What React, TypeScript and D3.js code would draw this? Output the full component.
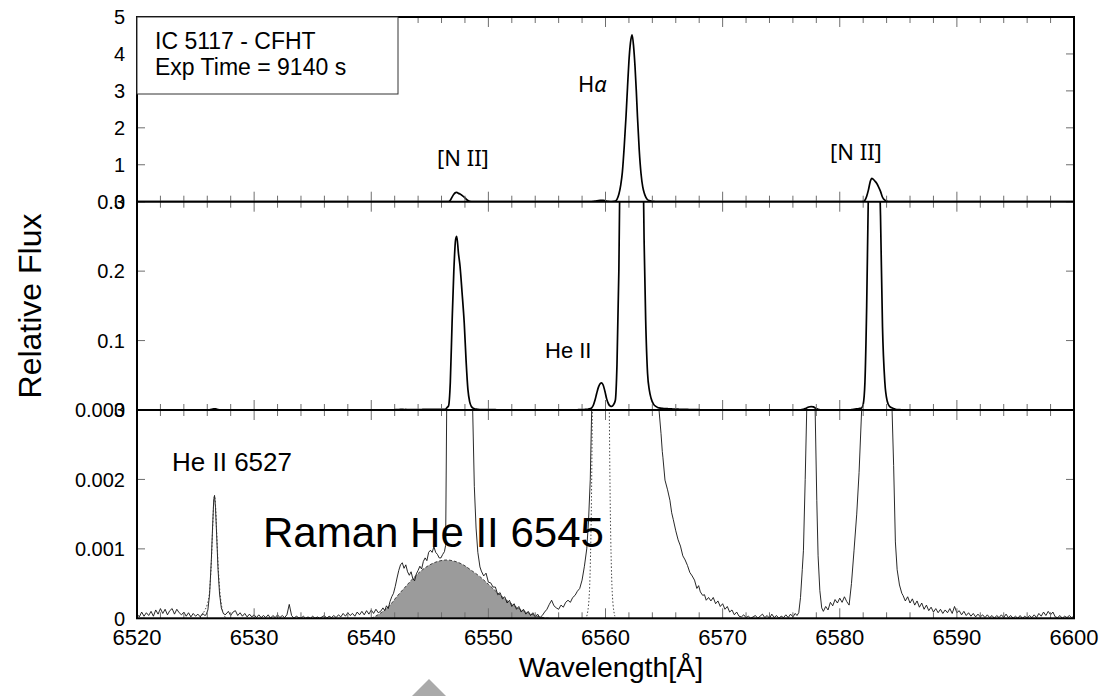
import * as d3 from 'd3';

// ---- layout ----
const W = 1102;
const H = 696;
const LEFT = 137;
const RIGHT = 1074;
const PANEL_Y = [17, 201.7, 410, 618.3]; // top, boundary 1, boundary 2, bottom

// ---- data ----
const xTickLabels = [6520, 6530, 6540, 6550, 6560, 6570, 6580, 6590, 6600];
const topTicks = [0, 1, 2, 3, 4, 5];
const midTicks = [0, 0.1, 0.2, 0.3];
const botTicks = [0, 0.001, 0.002, 0.003];

const STEP = 0.2; // Å, sampling of the faint continuum pieces
const E4 = 1e-4; // continuum pieces are listed in units of 1e-4

// continuum 6520.0 - 6525.8
const contBlueStart = 6520.0;
const contBlue = [0.6, 0.2, 0.9, 0.3, 0.8, 0.4, 1.0, 0.3, 1.2, 0.6, 1.4, 0.7, 1.3, 0.5, 1.1,
  1.4, 0.6, 1.3, 0.8, 0.5, 0.9, 0.3, 0.8, 0.2, 0.7, 0.3, 0.6, 0.2, 0.7, 0.4];

// He II 6527 (units 1e-4)
const heII6527Line = [[6525.9, 0.5], [6526.05, 1.2], [6526.2, 3.5], [6526.35, 8.5], [6526.45, 13],
  [6526.55, 17], [6526.62, 17.7], [6526.7, 16], [6526.8, 12], [6526.92, 7], [6527.05, 3.5],
  [6527.2, 1.5], [6527.35, 0.8], [6527.5, 0.5]];

// continuum 6527.6 - 6540.6
const contMidStart = 6527.6;
const contMid = [0.6, 1.0, 0.4, 0.9, 1.1, 0.4, 0.8, 0.3, 0.7, 0.2, 0.6, 0.2, 0.5, 0.1, 0.5, 0.1,
  0.4, 0.1, 0.5, 0.0, 0.4, 0.1, 0.5, 0.1, 0.4, 0.1, 0.5, 2.0, 0.4, 0.0, 0.3, 0.1, 0.0, 0.3, 0.0,
  0.2, 0.0, 0.3, 0.0, 0.2, 0.0, 0.2, 0.4, 0.0, 0.3, 0.1, 0.4, 0.1, 0.5, 0.2, 0.7, 0.3, 0.8, 0.4,
  0.7, 0.3, 0.9, 0.5, 1.0, 0.5, 1.1, 0.6, 1.2, 0.7, 1.3, 0.8];

// blue side of the Raman feature (units 1e-4)
const ramanBlueLine = [[6540.8, 1.0], [6541.0, 1.5], [6541.15, 1.1], [6541.3, 1.8], [6541.45, 1.4],
  [6541.6, 2.4], [6541.75, 3.1], [6541.9, 3.6], [6542.05, 4.6], [6542.2, 5.8], [6542.35, 6.9],
  [6542.5, 7.7], [6542.65, 8.0], [6542.8, 7.2], [6542.95, 7.7], [6543.1, 6.7], [6543.25, 6.2],
  [6543.4, 6.7], [6543.55, 5.7], [6543.7, 5.4], [6543.85, 6.4], [6544.0, 6.9], [6544.15, 7.5],
  [6544.3, 7.1], [6544.45, 8.2], [6544.6, 8.7], [6544.75, 8.3], [6544.9, 9.5], [6545.05, 9.8],
  [6545.2, 9.5], [6545.35, 10.3], [6545.5, 9.5], [6545.65, 9.2], [6545.8, 8.7], [6545.95, 8.7],
  [6546.1, 9.2], [6546.25, 9.6], [6546.35, 10.5]];

// [N II] 6548 (relative flux)
const nII6548Line = [[6546.44, 0.003], [6546.6, 0.006], [6546.75, 0.04], [6546.9, 0.125],
  [6547.05, 0.2], [6547.2, 0.245], [6547.3, 0.25], [6547.45, 0.225], [6547.58, 0.207],
  [6547.75, 0.17], [6547.94, 0.125], [6548.1, 0.07], [6548.25, 0.03], [6548.4, 0.012],
  [6548.55, 0.005], [6548.66, 0.003], [6548.8, 0.0019], [6548.95, 0.0013], [6549.1, 0.00095],
  [6549.28, 0.00074]];

// red side of Raman feature up to the Hα wing, 6549.4 - 6558.0
const contRedRamanStart = 6549.4;
const contRedRaman = [6.8, 6.1, 6.5, 5.2, 5.1, 4.5, 4.5, 3.4, 3.7, 2.8, 3.1, 2.2, 2.6, 1.7, 2.1,
  1.3, 1.7, 0.9, 1.3, 0.6, 1.0, 0.4, 0.8, 0.2, 0.6, 0.1, 0.4, 0.9, 1.3, 2.0, 2.6, 1.8, 1.5, 1.3,
  1.9, 1.6, 2.3, 2.6, 2.3, 3.0, 3.3, 3.9, 4.3, 5.5];

// He II 6560 + Hα (relative flux)
const halphaLine = [[6558.2, 0.00075], [6558.4, 0.001], [6558.55, 0.0014], [6558.7, 0.002],
  [6558.82, 0.003], [6558.95, 0.0065], [6559.1, 0.014], [6559.25, 0.024], [6559.4, 0.033],
  [6559.55, 0.038], [6559.67, 0.039], [6559.8, 0.036], [6559.95, 0.027], [6560.1, 0.016],
  [6560.25, 0.009], [6560.4, 0.0058], [6560.53, 0.0052], [6560.68, 0.0075], [6560.84, 0.014],
  [6560.98, 0.065], [6561.14, 0.2], [6561.3, 0.45], [6561.44, 0.8], [6561.6, 1.5], [6561.75, 2.3],
  [6561.88, 3.1], [6562.0, 3.8], [6562.13, 4.3], [6562.27, 4.52], [6562.4, 4.2], [6562.52, 3.66],
  [6562.63, 3.0], [6562.73, 2.3], [6562.88, 1.4], [6563.03, 0.77], [6563.18, 0.4], [6563.3, 0.24],
  [6563.43, 0.13], [6563.59, 0.053], [6563.75, 0.028], [6563.89, 0.017], [6564.1, 0.0085],
  [6564.3, 0.0052], [6564.45, 0.0037], [6564.57, 0.003], [6564.74, 0.00266], [6564.85, 0.0024],
  [6564.9, 0.00232], [6565.08, 0.00199], [6565.3, 0.00185], [6565.5, 0.0017], [6565.65, 0.00152],
  [6565.79, 0.00142], [6566.0, 0.00126], [6566.2, 0.00113], [6566.4, 0.00104], [6566.6, 0.0009],
  [6566.8, 0.00084], [6567.0, 0.00076], [6567.2, 0.00066], [6567.4, 0.00061], [6567.6, 0.00055],
  [6567.8, 0.00043], [6567.95, 0.00047], [6568.1, 0.00038], [6568.3, 0.00033], [6568.45, 0.00034],
  [6568.6, 0.00026]];

// continuum 6568.8 - 6576.2
const contRedStart = 6568.8;
const contRed = [3.0, 2.5, 3.0, 2.1, 2.5, 1.7, 2.1, 1.3, 1.7, 0.9, 1.2, 0.5, 0.9, 0.3, 0.2, 0.5,
  0.1, 0.3, 0.0, 0.2, 0.4, 0.0, 0.3, 0.6, 0.1, 0.4, 0.0, 0.6, 0.1, 0.4, 0.0, 0.3, 0.1, 0.5, 0.1,
  0.6, 0.2, 0.7];

// weak line near 6578 (relative flux)
const line6578 = [[6576.35, 0.00004], [6576.5, 0.00008], [6576.65, 0.0003], [6576.8, 0.0007],
  [6576.9, 0.00098], [6577.05, 0.002], [6577.18, 0.003], [6577.35, 0.0043], [6577.55, 0.005],
  [6577.75, 0.0046], [6577.9, 0.003], [6578.04, 0.0017], [6578.15, 0.0009], [6578.3, 0.0004],
  [6578.46, 0.00015]];

// plateau 6578.6 - 6581.0
const contPlateauStart = 6578.6;
const contPlateau = [1.0, 1.7, 1.2, 2.3, 1.8, 2.7, 2.2, 2.9, 2.3, 3.1, 2.4, 1.9, 5.0];

// [N II] 6583 (relative flux)
const nII6583Line = [[6581.22, 0.00098], [6581.45, 0.0015], [6581.65, 0.0021], [6581.87, 0.003],
  [6582.0, 0.008], [6582.15, 0.04], [6582.3, 0.15], [6582.45, 0.32], [6582.6, 0.54],
  [6582.72, 0.63], [6582.85, 0.61], [6583.0, 0.56], [6583.15, 0.5], [6583.3, 0.41],
  [6583.48, 0.28], [6583.65, 0.12], [6583.85, 0.04], [6584.05, 0.013], [6584.25, 0.0052],
  [6584.45, 0.0031], [6584.6, 0.0022], [6584.75, 0.0011], [6584.9, 0.0007], [6585.1, 0.00048],
  [6585.3, 0.00036]];

// continuum 6585.4 - 6600.0
const contTailStart = 6585.4;
const contTail = [3.3, 2.5, 3.1, 2.2, 2.8, 1.9, 2.5, 1.6, 2.2, 1.3, 1.9, 1.1, 1.6, 0.9, 1.4, 0.8,
  1.3, 0.7, 1.2, 0.8, 1.4, 0.7, 1.7, 0.8, 1.1, 0.5, 1.0, 0.4, 0.8, 0.3, 0.7, 0.2, 0.6, 0.2, 0.5,
  0.1, 0.5, 0.1, 0.4, 0.0, 0.4, 0.1, 0.5, 0.1, 0.6, 0.1, 0.4, 0.0, 0.3, 0.0, 0.4, 0.0, 0.3, 0.0,
  0.4, 0.1, 0.5, 0.1, 0.7, 0.3, 0.9, 0.4, 1.0, 0.5, 0.9, 0.2, 0.1, 0.4, 0.0, 0.3, 0.1, 0.4, 0.1,
  0.3];

// fits (dotted / shaded)
const heII6527Fit = [[6525.38, 0], [6525.8, 1.2], [6526.0, 2.0], [6526.2, 4.0], [6526.35, 8.2],
  [6526.45, 12.6], [6526.55, 16.6], [6526.62, 17.6], [6526.7, 16.4], [6526.8, 12.5],
  [6526.92, 7.8], [6527.05, 4.4], [6527.23, 1.7], [6527.6, 0]]; // units 1e-4
const heII6560Fit = [[6558.4, 0.00003], [6558.6, 0.0003], [6558.7, 0.00075], [6558.8, 0.0017],
  [6558.9, 0.0036], [6559.0, 0.0067], [6559.2, 0.0178], [6559.4, 0.032], [6559.6, 0.039],
  [6559.8, 0.032], [6560.0, 0.0178], [6560.2, 0.0067], [6560.3, 0.0036], [6560.4, 0.0017],
  [6560.5, 0.00075], [6560.6, 0.0003], [6560.8, 0.00003]];
const ramanFit = [[6540.0, 0], [6540.75, 0.7], [6541.6, 1.9], [6542.17, 3.1], [6542.9, 4.5],
  [6543.6, 5.8], [6544.3, 6.9], [6545.0, 7.7], [6545.7, 8.2], [6546.44, 8.4], [6547.15, 8.2],
  [6547.86, 7.7], [6548.55, 6.9], [6549.28, 6.0], [6550.0, 4.9], [6550.7, 3.8], [6551.4, 2.8],
  [6552.13, 1.9], [6552.85, 1.2], [6553.55, 0.7], [6554.4, 0.2], [6555.2, 0]]; // units 1e-4

type Pt = [number, number];
const grid = (start: number, vals: number[]): Pt[] => vals.map((v, i) => [start + i * STEP, v * E4]);
const scaled = (pts: number[][], k: number): Pt[] => pts.map(([w, v]) => [w, v * k]);

const spectrum: Pt[] = [
  ...grid(contBlueStart, contBlue),
  ...scaled(heII6527Line, E4),
  ...grid(contMidStart, contMid),
  ...scaled(ramanBlueLine, E4),
  ...scaled(nII6548Line, 1),
  ...grid(contRedRamanStart, contRedRaman),
  ...scaled(halphaLine, 1),
  ...grid(contRedStart, contRed),
  ...scaled(line6578, 1),
  ...grid(contPlateauStart, contPlateau),
  ...scaled(nII6583Line, 1),
  ...grid(contTailStart, contTail),
].sort((a, b) => a[0] - b[0]);

const x = d3.scaleLinear().domain([6520, 6600]).range([LEFT, RIGHT]);

const panels = [
  { id: 'top', y: d3.scaleLinear().domain([0, 5]).range([PANEL_Y[1], PANEL_Y[0]]), ticks: topTicks, fmt: (v: number) => String(v), width: 1.7, color: '#000', curve: d3.curveMonotoneX },
  { id: 'mid', y: d3.scaleLinear().domain([0, 0.3]).range([PANEL_Y[2], PANEL_Y[1]]), ticks: midTicks, fmt: (v: number) => (v === 0 ? '0' : v.toFixed(1)), width: 1.7, color: '#000', curve: d3.curveMonotoneX },
  { id: 'bot', y: d3.scaleLinear().domain([0, 0.003]).range([PANEL_Y[3], PANEL_Y[2]]), ticks: botTicks, fmt: (v: number) => (v === 0 ? '0' : v.toFixed(3)), width: 0.9, color: '#111', curve: d3.curveLinear },
];

const SANS = '"Liberation Sans", Arial, sans-serif';
const NOTO = '"Noto Sans", "Open Sans", sans-serif';
const TICK = '#6e6e6e';

export default function App() {
  const xMinor = d3.range(6520, 6600.1, 2);
  const bot = panels[2].y;

  const ramanArea = d3.area<Pt>().x((d) => x(d[0])).y0(bot(0)).y1((d) => bot(d[1])).curve(d3.curveMonotoneX);
  const fitLine = d3.line<Pt>().x((d) => x(d[0])).y((d) => bot(d[1])).curve(d3.curveMonotoneX);
  const ramanPts = scaled(ramanFit, E4);

  return (
    <svg width={W} height={H} style={{ display: 'block', position: 'absolute', left: 0, top: 0, background: '#fff' }}>
      <defs>
        {panels.map((p) => (
          <clipPath id={`clip-${p.id}`} key={p.id}>
            <rect x={LEFT} y={p.y.range()[1]} width={RIGHT - LEFT} height={p.y.range()[0] - p.y.range()[1]} />
          </clipPath>
        ))}
      </defs>

      {/* shaded Raman fit */}
      <g clipPath="url(#clip-bot)">
        <path d={ramanArea(ramanPts) || ''} fill="#9b9b9b" />
      </g>

      {/* spectrum in each panel */}
      {panels.map((p) => {
        const line = d3.line<Pt>().x((d) => x(d[0])).y((d) => p.y(d[1])).curve(p.curve);
        return (
          <g key={p.id} clipPath={`url(#clip-${p.id})`}>
            <path d={line(spectrum) || ''} fill="none" stroke={p.color} strokeWidth={p.width} strokeLinejoin="round" />
          </g>
        );
      })}

      {/* dotted / dashed fits in the bottom panel */}
      <g clipPath="url(#clip-bot)">
        <path d={fitLine(ramanPts) || ''} fill="none" stroke="#333" strokeWidth={0.9} strokeDasharray="3,2" />
        <path d={fitLine(scaled(heII6527Fit, E4)) || ''} fill="none" stroke="#333" strokeWidth={0.9} strokeDasharray="1.5,2" />
        <path d={fitLine(scaled(heII6560Fit, 1)) || ''} fill="none" stroke="#333" strokeWidth={0.9} strokeDasharray="1.5,2" />
      </g>

      {/* ticks */}
      <g stroke={TICK} strokeWidth={1}>
        {xMinor.map((v) => {
          const major = Math.abs(v % 10) < 1e-6;
          const len = major ? 10 : 6;
          const xx = x(v);
          return (
            <g key={v}>
              <line x1={xx} x2={xx} y1={PANEL_Y[0]} y2={PANEL_Y[0] + len} />
              <line x1={xx} x2={xx} y1={PANEL_Y[1] - len} y2={PANEL_Y[1] + len} />
              <line x1={xx} x2={xx} y1={PANEL_Y[2] - len} y2={PANEL_Y[2] + len} />
              <line x1={xx} x2={xx} y1={PANEL_Y[3] - len} y2={PANEL_Y[3]} />
            </g>
          );
        })}
        {panels.map((p) =>
          p.ticks.map((t) => (
            <g key={`${p.id}-${t}`}>
              <line x1={LEFT} x2={LEFT + 8} y1={p.y(t)} y2={p.y(t)} />
              <line x1={RIGHT - 8} x2={RIGHT} y1={p.y(t)} y2={p.y(t)} />
            </g>
          ))
        )}
      </g>

      {/* frame */}
      <g stroke="#000" strokeWidth={2} fill="none">
        <rect x={LEFT} y={PANEL_Y[0]} width={RIGHT - LEFT} height={PANEL_Y[3] - PANEL_Y[0]} />
        <line x1={LEFT} x2={RIGHT} y1={PANEL_Y[1]} y2={PANEL_Y[1]} />
        <line x1={LEFT} x2={RIGHT} y1={PANEL_Y[2]} y2={PANEL_Y[2]} />
      </g>

      {/* y tick labels (the 0 of one panel sits on the top label of the next, as in the original) */}
      <g fontFamily={SANS} fontSize={20} textAnchor="end" fill="#000">
        {panels.map((p) =>
          p.ticks.map((t) => (
            <text key={`${p.id}-l-${t}`} x={LEFT - 12} y={p.y(t)} dy="0.36em">
              {p.fmt(t)}
            </text>
          ))
        )}
      </g>

      {/* x tick labels */}
      <g fontFamily={SANS} fontSize={22} textAnchor="middle" fill="#000">
        {xTickLabels.map((v) => (
          <text key={v} x={x(v)} y={645}>{v}</text>
        ))}
      </g>

      {/* axis titles */}
      <text x={611} y={677} textAnchor="middle" fontFamily={SANS} fontSize={28.5}>Wavelength[Å]</text>
      <text transform="translate(41,306) rotate(-90)" textAnchor="middle" fontFamily={SANS} fontSize={32}>Relative Flux</text>

      {/* info box */}
      <rect x={LEFT} y={PANEL_Y[0]} width={261} height={77} fill="#fff" stroke="#333" strokeWidth={1} />
      <text x={155} y={49} fontFamily={SANS} fontSize={23}>IC 5117 - CFHT</text>
      <text x={155} y={75} fontFamily={SANS} fontSize={23}>Exp Time = 9140 s</text>

      {/* line labels */}
      <text x={578} y={92} fontFamily={NOTO} fontSize={22}>H<tspan fontStyle="italic">α</tspan></text>
      <text x={437} y={166} fontFamily={NOTO} fontSize={22}>[N II]</text>
      <text x={830} y={160} fontFamily={NOTO} fontSize={22}>[N II]</text>
      <text x={545} y={358} fontFamily={SANS} fontSize={22}>He II</text>
      <text x={172} y={471} fontFamily={SANS} fontSize={26}>He II 6527</text>
      <text x={263} y={547} fontFamily={SANS} fontSize={42}>Raman He II 6545</text>

      {/* grey pointer at the lower edge */}
      <polygon points="429,679 450,700 408,700" fill="#aaaaaa" />
    </svg>
  );
}
